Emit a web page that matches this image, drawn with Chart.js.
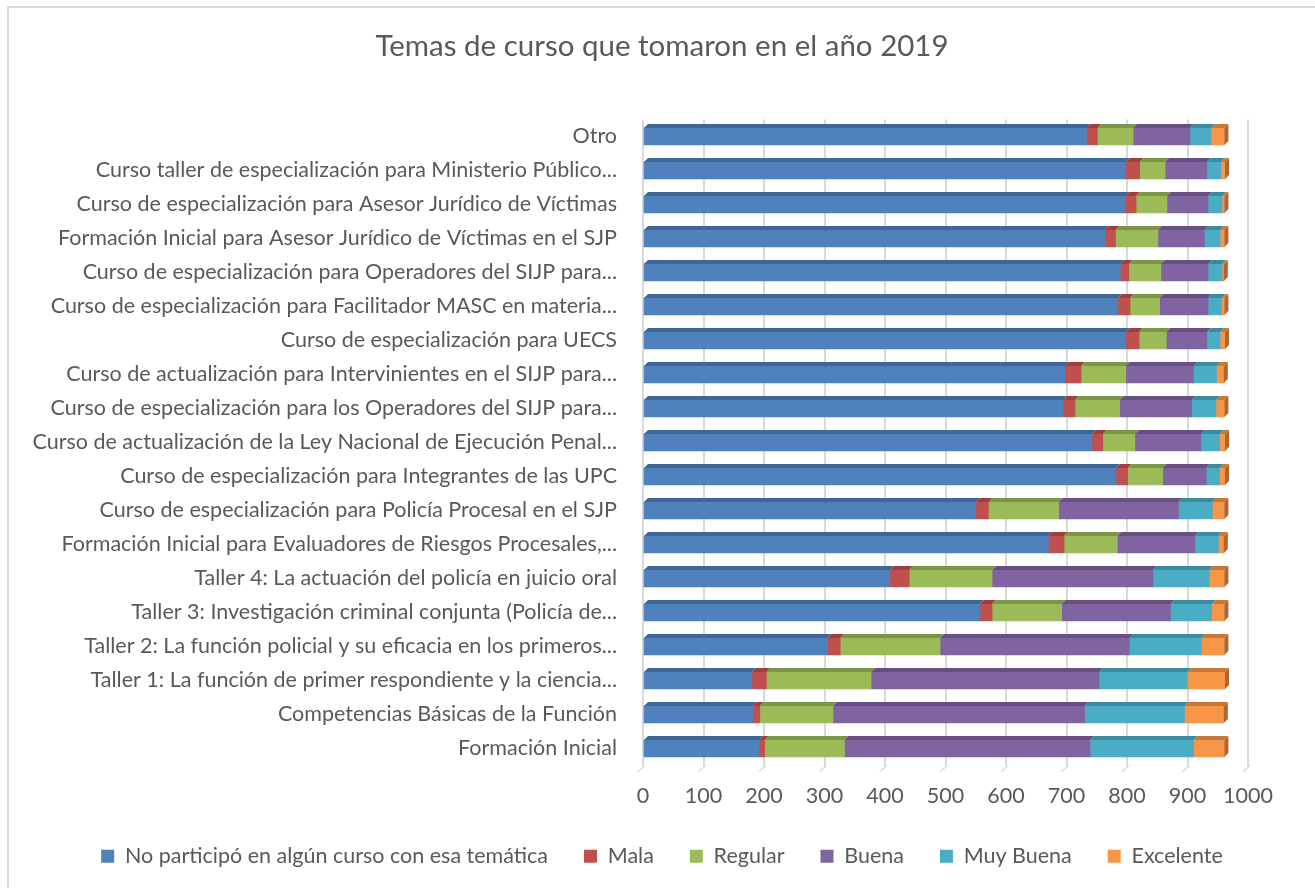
<!DOCTYPE html>
<html>
<head>
<meta charset="utf-8">
<script src="https://cdn.jsdelivr.net/npm/chart.js@4.4.1/dist/chart.umd.min.js"></script>
<style>
  html, body { margin: 0; padding: 0; background: #ffffff; }
  #wrap { position: relative; width: 1315px; height: 888px; overflow: hidden; }
  #frame { position: absolute; left: 7px; top: 6px; width: 1400px; height: 1000px; border: 2px solid #d9d9d9; box-sizing: border-box; pointer-events: none; }
  canvas { position: absolute; left: 0; top: 0; }
</style>
</head>
<body>
<div id="wrap">
  <div id="frame"></div>
  <canvas id="c" width="1315" height="888"></canvas>
</div>
<script>
// ---- Data (top to bottom as displayed) ----
const categories = [
  "Otro",
  "Curso taller de especialización para Ministerio Público...",
  "Curso de especialización para Asesor Jurídico de Víctimas",
  "Formación Inicial para Asesor Jurídico de Víctimas en el SJP",
  "Curso de especialización para Operadores del SIJP para...",
  "Curso de especialización para Facilitador MASC en materia...",
  "Curso de especialización para UECS",
  "Curso de actualización para Intervinientes en el SIJP para...",
  "Curso de especialización para los Operadores del SIJP para...",
  "Curso de actualización de la Ley Nacional de Ejecución Penal...",
  "Curso de especialización para Integrantes de las UPC",
  "Curso de especialización para Policía Procesal en el SJP",
  "Formación Inicial para Evaluadores de Riesgos Procesales,...",
  "Taller 4: La actuación del policía en juicio oral",
  "Taller 3: Investigación criminal conjunta (Policía de...",
  "Taller 2: La función policial y su eficacia en los primeros...",
  "Taller 1: La función de primer respondiente y la ciencia...",
  "Competencias Básicas de la Función",
  "Formación Inicial"
];

const seriesNames = ["No participó en algún curso con esa temática", "Mala", "Regular", "Buena", "Muy Buena", "Excelente"];

const noParticipo = [733, 798, 797, 763, 789, 785, 798, 697, 694, 742, 782, 550, 670, 408, 557, 305, 180, 181, 192];
const mala        = [18, 23, 18, 18, 14, 20, 22, 27, 20, 18, 19, 21, 26, 32, 20, 21, 24, 12, 9];
const regular     = [59, 42, 51, 70, 53, 49, 45, 74, 74, 53, 58, 116, 88, 137, 115, 165, 173, 121, 132];
const buena       = [94, 69, 68, 77, 78, 80, 67, 112, 119, 109, 72, 198, 128, 266, 180, 313, 377, 416, 406];
const muyBuena    = [35, 23, 23, 26, 23, 22, 22, 38, 40, 31, 22, 56, 39, 93, 68, 119, 146, 165, 171];
const excelente   = [22, 7, 4, 7, 3, 5, 8, 12, 14, 9, 9, 20, 9, 25, 21, 38, 62, 65, 51];

const xTicks = [0, 100, 200, 300, 400, 500, 600, 700, 800, 900, 1000];

// ---- Styles ----
const colors    = ["#4F81BD", "#C0504D", "#9BBB59", "#8064A2", "#4BACC6", "#F79646"];
const topColors = ["#3E6796", "#9A403E", "#7C9647", "#665082", "#3C8A9E", "#C67838"];
const seriesValues = [noParticipo, mala, regular, buena, muyBuena, excelente];

const FONT = "Lato, 'Open Sans', sans-serif";
const TXT = "#595959";
const DEPTH = 4;
const PAD_L = 9;

const bar3d = {
  id: 'bar3d',
  afterDatasetsDraw(chart) {
    const ctx = chart.ctx;
    const n = chart.data.datasets.length;
    ctx.save();
    chart.data.datasets.forEach((ds, di) => {
      const meta = chart.getDatasetMeta(di);
      meta.data.forEach((el) => {
        const p = el.getProps(['x', 'y', 'base', 'height'], true);
        const top = p.y - p.height / 2, bot = p.y + p.height / 2;
        const x0 = Math.min(p.base, p.x), x1 = Math.max(p.base, p.x);
        ctx.fillStyle = topColors[di];
        ctx.beginPath();
        ctx.moveTo(x0, top);
        ctx.lineTo(x1, top);
        ctx.lineTo(x1 + DEPTH, top - DEPTH);
        ctx.lineTo(x0 + DEPTH, top - DEPTH);
        ctx.closePath();
        ctx.fill();
        if (di === n - 1) {
          ctx.fillStyle = "#B0652C";
          ctx.beginPath();
          ctx.moveTo(x1, top);
          ctx.lineTo(x1 + DEPTH, top - DEPTH);
          ctx.lineTo(x1 + DEPTH, bot - DEPTH);
          ctx.lineTo(x1, bot);
          ctx.closePath();
          ctx.fill();
        }
      });
    });
    const xs = chart.scales.x, a = chart.chartArea;
    ctx.strokeStyle = "#d9d9d9";
    ctx.lineWidth = 1.5;
    xTicks.forEach(v => {
      const px = xs.getPixelForValue(v);
      ctx.beginPath();
      ctx.moveTo(px + 2, a.bottom);
      ctx.lineTo(px - 5, a.bottom + 6);
      ctx.stroke();
    });
    ctx.restore();
  }
};

new Chart(document.getElementById('c'), {
  type: 'bar',
  data: {
    labels: categories,
    datasets: seriesNames.map((name, i) => ({
      label: name,
      data: seriesValues[i],
      backgroundColor: colors[i],
      borderWidth: 0,
      barThickness: 17
    }))
  },
  options: {
    indexAxis: 'y',
    responsive: false,
    animation: false,
    devicePixelRatio: 1,
    layout: { padding: { left: PAD_L, right: 0, top: 10, bottom: 11 } },
    plugins: {
      title: {
        display: true,
        text: "Temas de curso que tomaron en el año 2019",
        color: TXT,
        font: { family: FONT, size: 29.5, weight: 'normal' },
        padding: { top: 19, bottom: 55 }
      },
      legend: {
        position: 'bottom',
        labels: {
          color: TXT,
          font: { family: FONT, size: 21.5 },
          boxWidth: 13,
          boxHeight: 13,
          padding: 36
        }
      },
      tooltip: { enabled: false }
    },
    scales: {
      x: {
        stacked: true,
        min: 0,
        max: 1000,
        afterBuildTicks(scale) { scale.ticks = xTicks.map(v => ({ value: v })); },
        afterFit(scale) { scale.height = 44; },
        grid: { color: "#d9d9d9", lineWidth: 2, drawTicks: false },
        border: { display: false },
        ticks: { color: TXT, font: { family: FONT, size: 21.5 }, padding: 18, maxRotation: 0,
                 callback: (v) => String(v) }
      },
      y: {
        stacked: true,
        afterFit(scale) { scale.width = 643 - PAD_L; },
        grid: { display: false, drawTicks: false },
        border: { display: false },
        ticks: { color: TXT, font: { family: FONT, size: 21.5 }, padding: 26, autoSkip: false }
      },
      yRight: {
        type: 'category',
        axis: 'y',
        position: 'right',
        afterFit(scale) { scale.width = 67; },
        grid: { display: false, drawTicks: false },
        border: { display: false },
        ticks: { display: false }
      }
    }
  },
  plugins: [bar3d]
});
</script>
</body>
</html>
